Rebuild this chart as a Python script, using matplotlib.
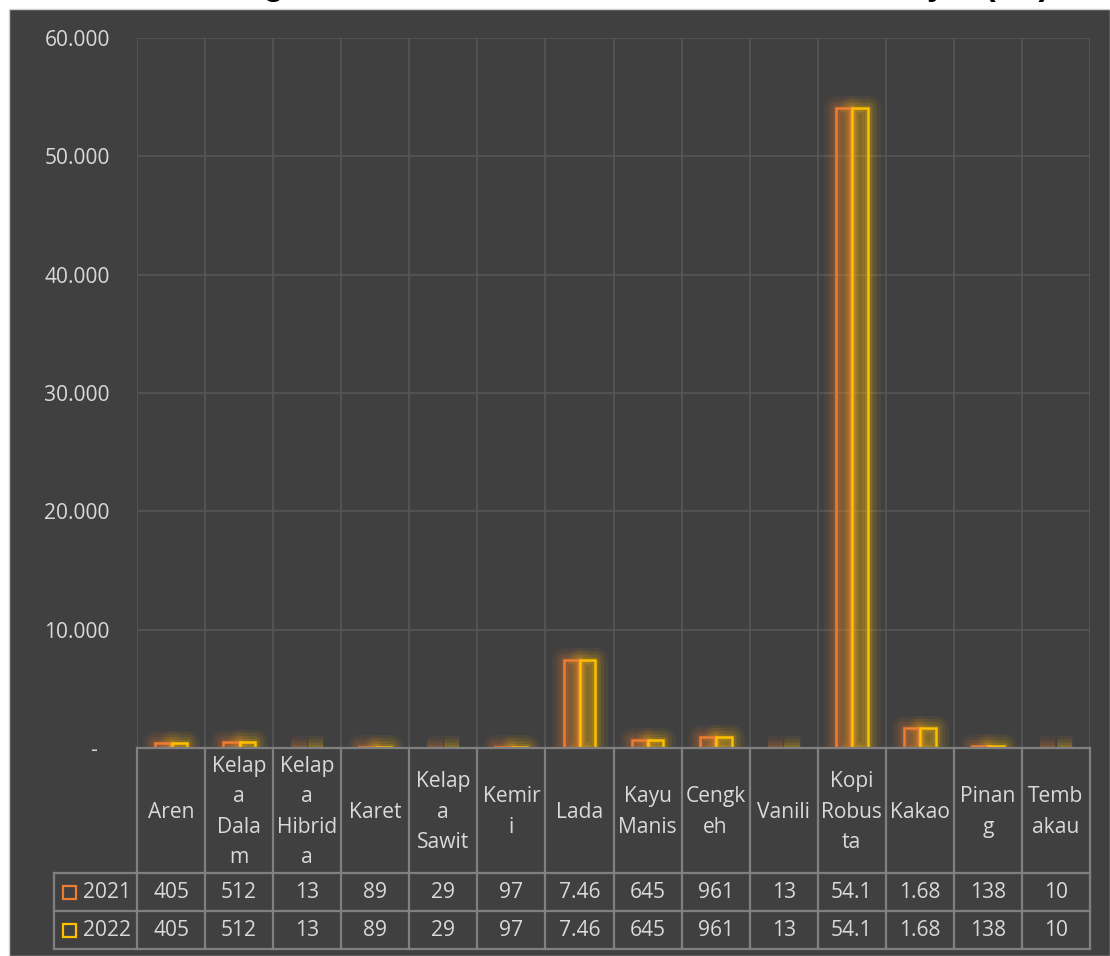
import numpy as np
import matplotlib
matplotlib.use("Agg")
import matplotlib.pyplot as plt
from matplotlib.patches import Rectangle
from matplotlib.colors import to_rgba

# ---------------- data ----------------
categories = ["Aren", "Kelapa Dalam", "Kelapa Hibrida", "Karet", "Kelapa Sawit",
              "Kemiri", "Lada", "Kayu Manis", "Cengkeh", "Vanili",
              "Kopi Robusta", "Kakao", "Pinang", "Tembakau"]
header_labels = ["Aren", "Kelap\na\nDala\nm", "Kelap\na\nHibrid\na", "Karet",
                 "Kelap\na\nSawit", "Kemir\ni", "Lada", "Kayu\nManis", "Cengk\neh",
                 "Vanili", "Kopi\nRobus\nta", "Kakao", "Pinan\ng", "Temb\nakau"]
series_names = ["2021", "2022"]
values_2021 = [405, 512, 13, 89, 29, 97, 7460, 645, 961, 13, 54100, 1680, 138, 10]
values_2022 = [405, 512, 13, 89, 29, 97, 7460, 645, 961, 13, 54100, 1680, 138, 10]
table_2021 = ["405", "512", "13", "89", "29", "97", "7.46", "645", "961", "13",
              "54.1", "1.68", "138", "10"]
table_2022 = ["405", "512", "13", "89", "29", "97", "7.46", "645", "961", "13",
              "54.1", "1.68", "138", "10"]
y_ticks = [0, 10000, 20000, 30000, 40000, 50000, 60000]
y_tick_labels = ["-", "10.000", "20.000", "30.000", "40.000", "50.000", "60.000"]
title_text = "Perbandingan Luas Areal Tanaman Perkebunan Rakyat (Ha)"

# ---------------- style ----------------
W, H = 1110, 956
BG = "#404040"
TXT = "#d9d9d9"
GRID = "#565656"
TLINE = "#808080"
COLORS = ["#ED7D31", "#FFC000"]
FONT = "Open Sans"
FS = 15.1

def fx(px):
    return px / W

def fy(py):
    return 1 - py / H

fig = plt.figure(figsize=(W / 100, H / 100), dpi=100)
fig.patch.set_facecolor("white")
fig.patches.append(Rectangle((fx(9), 0), 1 - fx(9), fy(8.5), transform=fig.transFigure,
                             facecolor=BG, edgecolor="#d0d0d0", linewidth=1, zorder=-5))

# title (mostly cut off at the top edge)
fig.text(fx(1050), 1 + 5.5 / H, title_text, ha="right", va="baseline",
         fontsize=24, fontweight="bold", family="Liberation Sans", color="black")

# ---------------- main axes ----------------
ax = fig.add_axes([fx(137), fy(748), fx(1090) - fx(137), fy(38) - fy(748)])
ax.patch.set_visible(False)
n = len(categories)
x = np.arange(n)
ax.set_xlim(-0.5, n - 0.5)
ax.set_ylim(0, 60000)
for s in ax.spines.values():
    s.set_visible(False)

ax.set_xticks([])
ax.set_xticks(np.arange(-0.5, n, 1), minor=True)
ax.grid(which="minor", axis="x", color=GRID, linewidth=1.2, zorder=0)
ax.set_yticks(y_ticks, y_tick_labels)
ax.grid(which="major", axis="y", color=GRID, linewidth=1.2, zorder=0)
ax.tick_params(which="both", length=0)
ax.tick_params(axis="y", pad=19.5, labelcolor=TXT, labelsize=FS)
for lab in ax.get_yticklabels():
    lab.set_family(FONT)
ax.yaxis.get_major_ticks()[0].label1.set_x(-13 / 953)

bw = 0.225
offs = [-0.121, 0.121]
for vals, col, off in zip([values_2021, values_2022], COLORS, offs):
    for lw, a in [(18, 0.06), (13, 0.08), (8.5, 0.11), (5, 0.15)]:
        ax.bar(x + off, vals, bw, facecolor="none", edgecolor=to_rgba(col, a),
               linewidth=lw, joinstyle="round", zorder=2)
for vals, col, off in zip([values_2021, values_2022], COLORS, offs):
    ax.bar(x + off, vals, bw, facecolor=to_rgba(col, 0.2), edgecolor=col,
           linewidth=1.8, zorder=3)

# ---------------- data table ----------------
tax = fig.add_axes([fx(137), fy(949), fx(1090) - fx(137), fy(748) - fy(949)])
tax.set_xlim(-0.5, n - 0.5)
tax.set_ylim(201, 0)
tax.axis("off")

left_edge = -0.5 - (137 - 54) / 68.07
lkw = dict(color=TLINE, linewidth=1.6, clip_on=False, solid_capstyle="projecting")
tax.plot([-0.5, n - 0.5], [0, 0], **lkw)
for yy in [125, 163, 201]:
    tax.plot([left_edge, n - 0.5], [yy, yy], **lkw)
for i in range(n + 1):
    tax.plot([i - 0.5, i - 0.5], [0, 201], **lkw)
tax.plot([left_edge, left_edge], [125, 201], **lkw)

for i, lab in enumerate(header_labels):
    tax.text(i, 64, lab, ha="center", va="center", multialignment="center",
             color=TXT, fontsize=FS, family=FONT, linespacing=1.58)

row_y = [144, 182]
for ry, row in zip(row_y, [table_2021, table_2022]):
    for i, v in enumerate(row):
        tax.text(i, ry, v, ha="center", va="center", color=TXT, fontsize=FS, family=FONT)

sq = 13 / 68.07
for ry, name, col in zip(row_y, series_names, COLORS):
    cx = -0.5 - (137 - 69.3) / 68.07
    tax.add_patch(Rectangle((cx - sq / 2, ry - 6.5), sq, 13, facecolor="none",
                            edgecolor=col, linewidth=1.6, clip_on=False))
    tax.text(-0.5 - (137 - 83) / 68.07, ry, name, ha="left", va="center",
             color=TXT, fontsize=FS, family=FONT)

fig.savefig("out.png", dpi=100, facecolor=fig.get_facecolor())
